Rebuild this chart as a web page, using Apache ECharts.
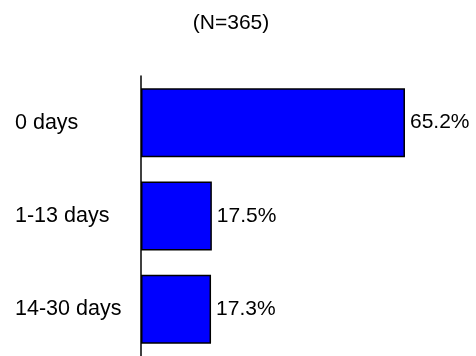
<!DOCTYPE html>
<html>
<head>
<meta charset="utf-8">
<script src="https://cdn.jsdelivr.net/npm/echarts@6/dist/echarts.min.js"></script>
<style>html,body{margin:0;padding:0;background:#fff}#c{width:476px;height:356px}</style>
</head>
<body>
<div id="c"></div>
<script>
const titleText = '(N=365)';
const categories = ['0 days', '1-13 days', '14-30 days'];
const values = [65.2, 17.5, 17.3];

const chart = echarts.init(document.getElementById('c'));
const font = 'Liberation Sans, Arial, sans-serif';
chart.setOption({
  animation: false,
  title: {
    text: titleText, left: 226, top: 8, textAlign: 'center',
    textStyle: { fontFamily: font, fontSize: 21, fontWeight: 'normal', color: '#000' }
  },
  grid: { left: 141, top: 76, width: 332, height: 282 },
  xAxis: { type: 'value', min: 0, max: 82, show: false },
  yAxis: {
    type: 'category', data: categories, inverse: true,
    axisLine: { show: true, lineStyle: { color: '#000', width: 1.5 } },
    axisTick: { show: false },
    axisLabel: { align: 'left', margin: 126, fontFamily: font, fontSize: 21.5, color: '#000' }
  },
  series: [{
    type: 'bar', data: values, barWidth: 69,
    itemStyle: { color: '#0000ff', borderColor: '#000', borderWidth: 1.5 },
    label: {
      show: true, position: 'right', distance: 5, fontFamily: font, fontSize: 21, color: '#000',
      formatter: p => p.value.toFixed(1) + '%'
    }
  }]
});
</script>
</body>
</html>
